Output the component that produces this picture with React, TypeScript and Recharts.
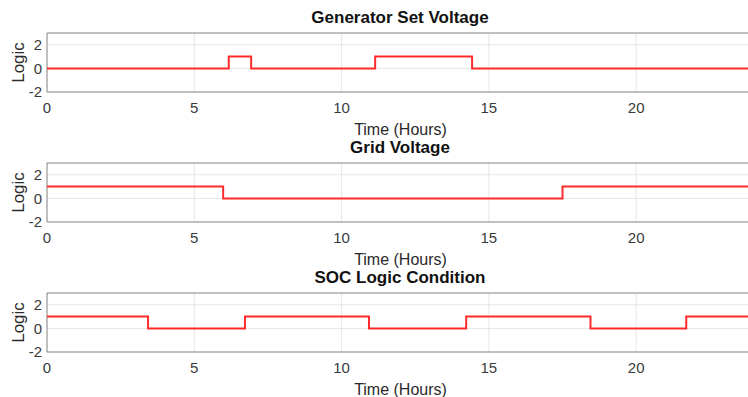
import React from "react";
import {
  LineChart,
  Line,
  XAxis,
  YAxis,
  CartesianGrid,
  ReferenceArea,
} from "recharts";

// switching times (hours) and logic level after each switch
const genTime = [0, 6.17, 6.93, 11.14, 14.43, 24];
const genLogic = [0, 1, 0, 1, 0, 0];
const gridTime = [0, 5.98, 17.5, 24];
const gridLogic = [1, 0, 1, 1];
const socTime = [0, 3.43, 6.72, 10.93, 14.23, 18.45, 21.7, 24];
const socLogic = [1, 0, 1, 0, 1, 0, 1, 1];

const xTicks = [0, 5, 10, 15, 20];
const yTicks = [-2, 0, 2];

const panels = [
  { title: "Generator Set Voltage", time: genTime, logic: genLogic },
  { title: "Grid Voltage", time: gridTime, logic: gridLogic },
  { title: "SOC Logic Condition", time: socTime, logic: socLogic },
];

const FONT = "'Liberation Sans', Arial, Helvetica, sans-serif";
const tickStyle = { fontSize: 15, fill: "#3a3a3a", fontFamily: FONT };

const Panel = ({ title, time, logic }: { title: string; time: number[]; logic: number[] }) => {
  const data = time.map((t, i) => ({ t, v: logic[i] }));
  return (
    <div style={{ position: "relative", width: 748, height: 130 }}>
      <div
        style={{
          position: "absolute",
          left: 47,
          width: 706,
          top: 8,
          textAlign: "center",
          fontFamily: FONT,
          fontWeight: "bold",
          fontSize: 17,
          lineHeight: "20px",
          color: "#111",
        }}
      >
        {title}
      </div>
      <LineChart
        width={754}
        height={140}
        data={data}
        margin={{ top: 33, right: 0, bottom: 10, left: 0 }}
        style={{ position: "absolute", top: 0, left: 0 }}
      >
        <CartesianGrid stroke="#e6e6e6" />
        <XAxis
          type="number"
          dataKey="t"
          domain={[0, 24]}
          ticks={xTicks}
          allowDataOverflow
          height={38}
          tickLine={false}
          axisLine={false}
          tickSize={4}
          tickMargin={6}
          tick={tickStyle}
          label={{
            value: "Time (Hours)",
            position: "insideBottom",
            offset: -5,
            style: { fontSize: 16, fill: "#2a2a2a", fontFamily: FONT },
          }}
        />
        <YAxis
          type="number"
          domain={[-2, 3]}
          ticks={yTicks}
          allowDataOverflow
          width={47}
          tickLine={false}
          axisLine={false}
          tickSize={2}
          tickMargin={3}
          tick={tickStyle}
          label={{
            value: "Logic",
            angle: -90,
            position: "insideLeft",
            offset: 18,
            style: { fontSize: 17, fill: "#2a2a2a", fontFamily: FONT, textAnchor: "middle" },
          }}
        />
        <ReferenceArea x1={0} x2={24} y1={-2} y2={3} fill="none" stroke="#8c8c8c" strokeWidth={1} />
        <Line
          type="stepAfter"
          dataKey="v"
          stroke="#ff2b2b"
          strokeWidth={2}
          dot={false}
          isAnimationActive={false}
        />
      </LineChart>
    </div>
  );
}

export default function App() {
  return (
    <div style={{ position: "absolute", top: 0, left: 0, width: 748, height: 397, overflow: "hidden", background: "#fff" }}>
      {panels.map((p) => (
        <Panel key={p.title} {...p} />
      ))}
    </div>
  );
}
